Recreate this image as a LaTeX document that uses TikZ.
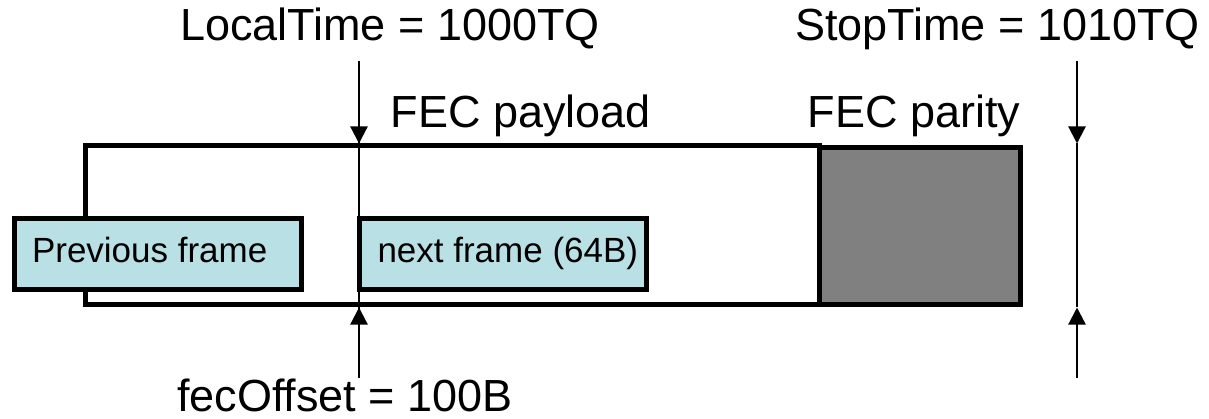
\documentclass[tikz,border=0pt]{standalone}
\usepackage{fontspec}
\setmainfont{Liberation Sans}
\usetikzlibrary{arrows.meta}
\definecolor{framecyan}{RGB}{185,224,228}
\definecolor{paritygray}{RGB}{128,128,128}
\newcommand{\framelabel}[1]{\makebox[251pt][l]{#1}}
\begin{document}
\begin{tikzpicture}[x=1pt,y=-1pt,
  bigtext/.style={inner sep=0pt,anchor=base,font=\fontsize{45}{52}\selectfont},
  boxtext/.style={font=\fontsize{35}{40}\selectfont,text height=25pt,text depth=8pt},
  fecbox/.style={draw,line width=5pt,inner sep=0pt},
  framebox/.style={fecbox,fill=framecyan,minimum width=287pt,minimum height=71pt,
    inner xsep=18pt,boxtext},
  conn/.style={line width=2.2pt},
  arr/.style={conn,-{Triangle[length=17pt,width=17pt]}}]
\useasboundingbox (0,0) rectangle (1209,419);
% main FEC payload block and parity
\node[fecbox,minimum width=733.5pt,minimum height=159pt] (payload) at (452.25,225.5) {};
\node[fecbox,fill=paritygray,minimum width=201pt,minimum height=157pt] (parity) at (919.5,226.5) {};
% frames
\node[framebox] (prev) at (157.5,254) {\framelabel{Previous frame}};
\node[framebox] (next) at (503,254.5) {\framelabel{next frame (64B)}};
% labels
\node[bigtext] (lt) at (390,41) {LocalTime = 1000TQ};
\node[bigtext] (st) at (997.5,41) {StopTime = 1010TQ};
\node[bigtext] (fp) at (521,128) {FEC payload};
\node[bigtext] (fq) at (914,128) {FEC parity};
\node[bigtext] (fo) at (345,411) {fecOffset = 100B};
% marker lines
\coordinate (ltop) at (359,61);
\coordinate (lbot) at (359,378);
\coordinate (rtop) at (1077,61);
\coordinate (rbot) at (1077,378);
\draw[conn] (ltop) -- (lbot);
\draw[arr] (ltop) -- (ltop |- payload.north);
\draw[arr] (lbot) -- (lbot |- payload.south);
\draw[arr] (rtop) -- (rtop |- payload.north);
\draw[arr] (rbot) -- (rbot |- payload.south);
\draw[conn] (rtop |- payload.north) -- (rbot |- payload.south);
\end{tikzpicture}
\end{document}
